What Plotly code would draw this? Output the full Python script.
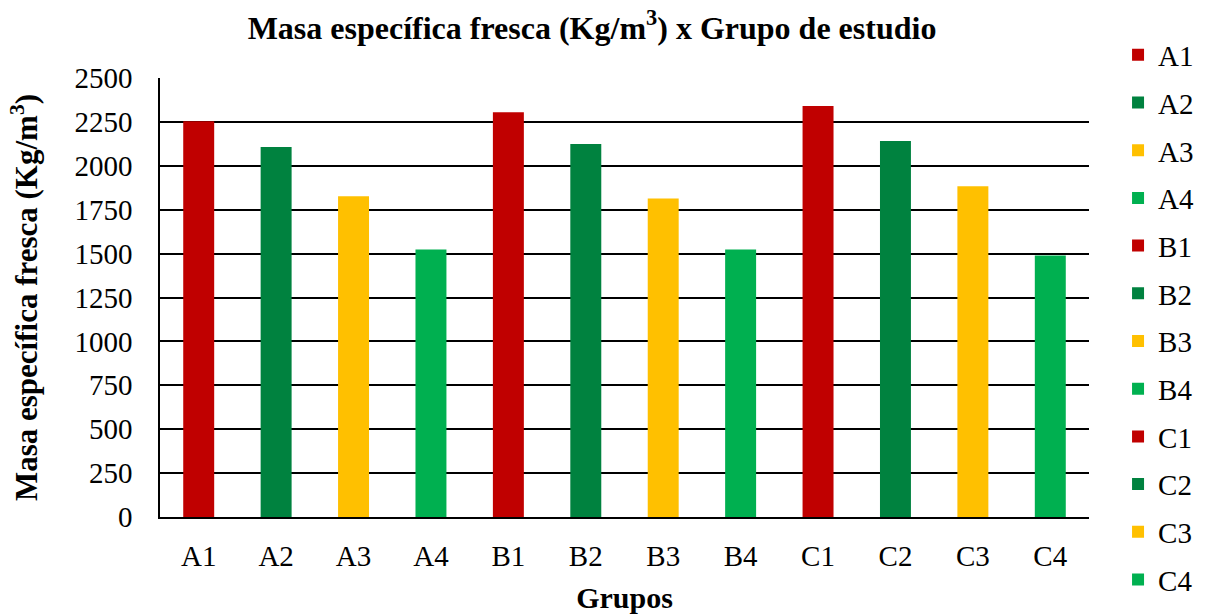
import plotly.graph_objects as go

# Grupos de estudio y masa específica fresca (Kg/m³)
grupos = ["A1", "A2", "A3", "A4", "B1", "B2", "B3", "B4", "C1", "C2", "C3", "C4"]
masa = [2254, 2107, 1826, 1523, 2305, 2124, 1814, 1523, 2340, 2141, 1883, 1489]
colores = ["#C00000", "#00823F", "#FFC000", "#00B050"] * 3
ticks_y = [0, 250, 500, 750, 1000, 1250, 1500, 1750, 2000, 2250, 2500]

FONT = "Liberation Serif, Times New Roman, serif"

fig = go.Figure()
for g, v, c in zip(grupos, masa, colores):
    fig.add_trace(go.Bar(
        x=[g], y=[v], name=g, legendgroup=g,
        marker=dict(color=c, line=dict(width=0)),
        width=0.4,
    ))

fig.update_layout(
    width=1207, height=614,
    margin=dict(l=160, r=118, t=78, b=97, autoexpand=False),
    paper_bgcolor="white", plot_bgcolor="white",
    barmode="overlay",
    font=dict(family=FONT, size=29, color="black"),
    title=dict(
        text="<b>Masa específica fresca (Kg/m<sup>3</sup>) x Grupo de estudio</b>",
        x=0.4905, xref="container", xanchor="center",
        y=0.955, yref="container", yanchor="middle",
        font=dict(family=FONT, size=32, color="black"),
    ),
    legend=dict(
        x=0.9263, xref="container", xanchor="left",
        y=0.952, yref="container", yanchor="top",
        font=dict(family=FONT, size=29, color="black"),
        tracegroupgap=7, itemwidth=30, maxheight=1,
        bgcolor="rgba(0,0,0,0)",
    ),
    xaxis=dict(
        categoryorder="array", categoryarray=grupos,
        showline=True, linecolor="black", linewidth=1.5,
        ticks="outside", ticklen=12, tickcolor="rgba(0,0,0,0)",
        tickfont=dict(family=FONT, size=29),
        title=dict(text="<b>Grupos</b>", font=dict(family=FONT, size=30), standoff=16),
    ),
    yaxis=dict(
        range=[0, 2500], tickvals=ticks_y,
        showline=True, linecolor="black", linewidth=1.5,
        showgrid=True, gridcolor="black", gridwidth=1.5,
        zeroline=False,
        ticks="outside", ticklen=20, tickcolor="rgba(0,0,0,0)",
        tickfont=dict(family=FONT, size=29),
        title=dict(text="<b>Masa específica fresca (Kg/m<sup>3</sup>)</b>",
                   font=dict(family=FONT, size=31), standoff=28),
    ),
)

fig.write_html("out.html")
